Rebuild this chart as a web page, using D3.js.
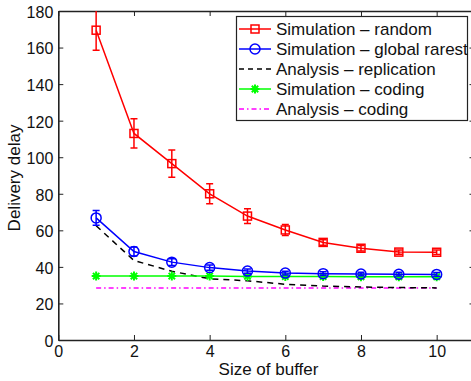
<!DOCTYPE html>
<html>
<head>
<meta charset="utf-8">
<script src="https://cdn.jsdelivr.net/npm/d3@7"></script>
<style>
  body { margin: 0; background: #fff; }
  svg { display: block; font-family: "Liberation Sans", Arial, sans-serif; }
</style>
</head>
<body>
<svg id="chart" width="471" height="381"></svg>
<script>
// data
const bufferSizes = [1, 2, 3, 4, 5, 6, 7, 8, 9, 10];
const simRandom = [169.5, 113, 96.5, 80, 67.8, 60.2, 53.4, 50.2, 48.1, 48];
const simRandomErr = [11, 8, 7.5, 5.5, 4, 3, 1.5, 1.5, 1.2, 1.2];
const simRarest = [66.8, 48.4, 42.6, 39.6, 37.7, 36.6, 36.3, 36.1, 36, 35.9];
const simRarestErr = [4, 2.5, 1.8, 1.5, 1.2, 1, 1, 1, 1, 1];
const anaReplication = [62.5, 43.5, 37.6, 33.5, 32.4, 30.5, 29.5, 29, 28.7, 28.5];
const simCoding = [35, 35, 35, 35, 34.8, 34.7, 34.7, 34.6, 34.6, 34.6];
const anaCoding = [28.5, 28.5, 28.5, 28.5, 28.5, 28.5, 28.5, 28.5, 28.5, 28.5];
const xTicks = [0, 2, 4, 6, 8, 10];
const yTicks = [0, 20, 40, 60, 80, 100, 120, 140, 160, 180];
const legendLabels = ["Simulation \u2013 random", "Simulation \u2013 global rarest",
  "Analysis \u2013 replication", "Simulation \u2013 coding", "Analysis \u2013 coding"];

const m = {left: 58.3, right: 474.5, top: 11, bottom: 340};
const svg = d3.select("#chart");

const x = d3.scaleLinear().domain([0, 11]).range([m.left, m.right]);
const y = d3.scaleLinear().domain([0, 180]).range([m.bottom, m.top]);

svg.append("defs").append("clipPath").attr("id", "clip")
  .append("rect").attr("x", m.left).attr("y", m.top)
  .attr("width", m.right - m.left).attr("height", m.bottom - m.top);

// axes with inward ticks, box on
const axisColor = "#222";
const gx = svg.append("g").attr("transform", `translate(0,${m.bottom})`)
  .call(d3.axisBottom(x).tickValues(xTicks).tickSizeInner(-5).tickSizeOuter(0).tickPadding(6));
const gy = svg.append("g").attr("transform", `translate(${m.left},0)`)
  .call(d3.axisLeft(y).tickValues(yTicks).tickSizeInner(-5).tickSizeOuter(0).tickPadding(5));
const gt = svg.append("g").attr("transform", `translate(0,${m.top})`)
  .call(d3.axisTop(x).tickValues(xTicks).tickSizeInner(-5).tickSizeOuter(0).tickFormat(""));
const gr = svg.append("g").attr("transform", `translate(${m.right},0)`)
  .call(d3.axisRight(y).tickValues(yTicks).tickSizeInner(-5).tickSizeOuter(0).tickFormat(""));
[gx, gy, gt, gr].forEach(g => {
  g.select(".domain").attr("stroke", axisColor).attr("stroke-width", 1.6);
  g.selectAll(".tick line").attr("stroke", axisColor).attr("stroke-width", 1);
  g.selectAll(".tick text").attr("fill", "#111").style("font-size", "16px")
    .style("font-family", "Liberation Sans, Arial, sans-serif");
});
gy.selectAll(".tick text").attr("dy", "0.4em");

// axis labels
svg.append("text").attr("x", 268.5).attr("y", 375).attr("text-anchor", "middle")
  .style("font-size", "17px").attr("fill", "#111").text("Size of buffer");
svg.append("text").attr("transform", "translate(20,178) rotate(-90)").attr("text-anchor", "middle")
  .style("font-size", "17px").attr("fill", "#111").text("Delivery delay");

const plot = svg.append("g").attr("clip-path", "url(#clip)");
const line = d3.line().x((d, i) => x(bufferSizes[i])).y(d => y(d));

function drawLine(vals, color, dash, width) {
  plot.append("path").datum(vals).attr("d", line).attr("fill", "none")
    .attr("stroke", color).attr("stroke-width", width || 1.5)
    .attr("stroke-dasharray", dash || null);
}
function drawErr(vals, errs, color) {
  vals.forEach((v, i) => {
    const cx = x(bufferSizes[i]);
    const g = plot.append("g").attr("stroke", color).attr("stroke-width", 1.5);
    g.append("line").attr("x1", cx).attr("x2", cx).attr("y1", y(v - errs[i])).attr("y2", y(v + errs[i]));
    [v - errs[i], v + errs[i]].forEach(e => g.append("line")
      .attr("x1", cx - 3.5).attr("x2", cx + 3.5).attr("y1", y(e)).attr("y2", y(e)));
  });
}
function marker(g, type, cx, cy, color) {
  if (type === "square") {
    g.append("rect").attr("x", cx - 4).attr("y", cy - 4).attr("width", 8).attr("height", 8)
      .attr("fill", "none").attr("stroke", color).attr("stroke-width", 1.5);
  } else if (type === "circle") {
    g.append("circle").attr("cx", cx).attr("cy", cy).attr("r", 5)
      .attr("fill", "none").attr("stroke", color).attr("stroke-width", 1.5);
  } else if (type === "star") {
    const r = 4.5;
    [0, 45, 90, 135].forEach(a => {
      const rad = a * Math.PI / 180;
      g.append("line").attr("x1", cx - r * Math.cos(rad)).attr("y1", cy - r * Math.sin(rad))
        .attr("x2", cx + r * Math.cos(rad)).attr("y2", cy + r * Math.sin(rad))
        .attr("stroke", color).attr("stroke-width", 2);
    });
  }
}
function drawMarkers(vals, type, color) {
  vals.forEach((v, i) => marker(plot, type, x(bufferSizes[i]), y(v), color));
}

// series
drawLine(anaCoding, "#ff00ff", "5,3,1.5,3", 1.5);
drawLine(anaReplication, "#000", "6,5", 1.5);
drawLine(simCoding, "#00ff00", null, 1.5);
drawMarkers(simCoding, "star", "#00ff00");
drawLine(simRarest, "#0000ff", null, 1.5);
drawErr(simRarest, simRarestErr, "#0000ff");
drawMarkers(simRarest, "circle", "#0000ff");
drawLine(simRandom, "#ff0000", null, 1.5);
drawErr(simRandom, simRandomErr, "#ff0000");
drawMarkers(simRandom, "square", "#ff0000");

// legend
const lg = svg.append("g");
lg.append("rect").attr("x", 236.5).attr("y", 16.5).attr("width", 231).attr("height", 104)
  .attr("fill", "#fff").attr("stroke", axisColor).attr("stroke-width", 1.2);
const legendStyle = [
  {color: "#ff0000", dash: null, mark: "square"},
  {color: "#0000ff", dash: null, mark: "circle"},
  {color: "#000", dash: "5,4", mark: null},
  {color: "#00ff00", dash: null, mark: "star"},
  {color: "#ff00ff", dash: "5,3,1.5,3", mark: null}
];
legendLabels.forEach((lab, i) => {
  const ly = 29 + i * 20;
  const s = legendStyle[i];
  lg.append("line").attr("x1", 239).attr("x2", 271).attr("y1", ly).attr("y2", ly)
    .attr("stroke", s.color).attr("stroke-width", 1.5).attr("stroke-dasharray", s.dash);
  if (s.mark) marker(lg, s.mark, 255, ly, s.color);
  lg.append("text").attr("x", 276).attr("y", ly).attr("dy", "0.36em")
    .style("font-size", "17px").attr("fill", "#111").text(lab);
});
</script>
</body>
</html>
